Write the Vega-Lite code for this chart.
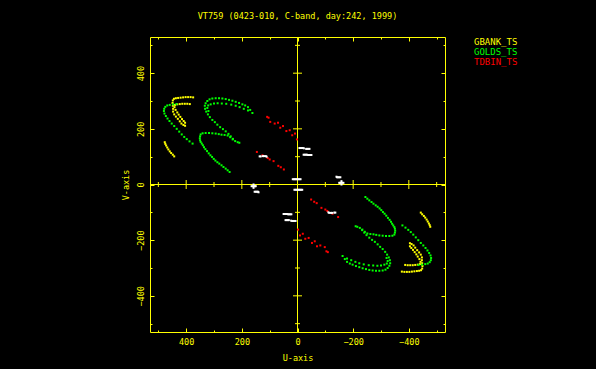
{
"$schema": "https://vega.github.io/schema/vega-lite/v6.json",
"width": 295, "height": 295,
"autosize": "none",
"padding": {"left": 150, "top": 37, "right": 151, "bottom": 37},
"background": "#000000",
"title": {"text": "VT759 (0423-010, C-band, day:242, 1999)", "color": "#ffff00", "font": "DejaVu Sans Mono", "fontSize": 8.5, "fontWeight": "normal", "anchor": "middle", "offset": 9, "baseline": "alphabetic"},
"config": {
  "view": {"stroke": "#ffff00", "strokeWidth": 1},
  "axis": {"grid": false, "domain": false, "tickColor": "#ffff00", "tickWidth": 1, "labelColor": "#ffff00", "titleColor": "#ffff00", "labelFont": "DejaVu Sans Mono", "titleFont": "DejaVu Sans Mono", "labelFontSize": 8.5, "titleFontSize": 8.5, "titleFontWeight": "normal"}
},
"datasets": {"uv": [
{"b":"GBANK_TS","u":375,"v":313},{"b":"GBANK_TS","u":384,"v":314},{"b":"GBANK_TS","u":393,"v":314},{"b":"GBANK_TS","u":402,"v":314},{"b":"GBANK_TS","u":411,"v":313},{"b":"GBANK_TS","u":420,"v":312},{"b":"GBANK_TS","u":429,"v":311},{"b":"GBANK_TS","u":437,"v":310},{"b":"GBANK_TS","u":444,"v":308},{"b":"GBANK_TS","u":448,"v":302},{"b":"GBANK_TS","u":449,"v":293},{"b":"GBANK_TS","u":448,"v":283},{"b":"GBANK_TS","u":447,"v":272},{"b":"GBANK_TS","u":447,"v":262},{"b":"GBANK_TS","u":443,"v":252},{"b":"GBANK_TS","u":437,"v":244},{"b":"GBANK_TS","u":430,"v":236},{"b":"GBANK_TS","u":423,"v":227},{"b":"GBANK_TS","u":417,"v":219},{"b":"GBANK_TS","u":410,"v":214},{"b":"GBANK_TS","u":404,"v":211},
{"b":"GBANK_TS","u":387,"v":289},{"b":"GBANK_TS","u":396,"v":290},{"b":"GBANK_TS","u":405,"v":290},{"b":"GBANK_TS","u":414,"v":290},{"b":"GBANK_TS","u":423,"v":289},{"b":"GBANK_TS","u":432,"v":288},{"b":"GBANK_TS","u":440,"v":286},{"b":"GBANK_TS","u":442,"v":278},{"b":"GBANK_TS","u":438,"v":268},{"b":"GBANK_TS","u":432,"v":259},{"b":"GBANK_TS","u":427,"v":251},{"b":"GBANK_TS","u":421,"v":243},{"b":"GBANK_TS","u":415,"v":235},{"b":"GBANK_TS","u":409,"v":228},{"b":"GBANK_TS","u":404,"v":222},
{"b":"GBANK_TS","u":477,"v":152},{"b":"GBANK_TS","u":475,"v":146},{"b":"GBANK_TS","u":472,"v":140},{"b":"GBANK_TS","u":468,"v":133},{"b":"GBANK_TS","u":464,"v":126},{"b":"GBANK_TS","u":459,"v":119},{"b":"GBANK_TS","u":454,"v":113},{"b":"GBANK_TS","u":448,"v":107},{"b":"GBANK_TS","u":443,"v":101},
{"b":"GBANK_TS","u":-375,"v":-313},{"b":"GBANK_TS","u":-384,"v":-314},{"b":"GBANK_TS","u":-393,"v":-314},{"b":"GBANK_TS","u":-402,"v":-314},{"b":"GBANK_TS","u":-411,"v":-313},{"b":"GBANK_TS","u":-420,"v":-312},{"b":"GBANK_TS","u":-429,"v":-311},{"b":"GBANK_TS","u":-437,"v":-310},{"b":"GBANK_TS","u":-444,"v":-308},{"b":"GBANK_TS","u":-448,"v":-302},{"b":"GBANK_TS","u":-449,"v":-293},{"b":"GBANK_TS","u":-448,"v":-283},{"b":"GBANK_TS","u":-447,"v":-272},{"b":"GBANK_TS","u":-447,"v":-262},{"b":"GBANK_TS","u":-443,"v":-252},{"b":"GBANK_TS","u":-437,"v":-244},{"b":"GBANK_TS","u":-430,"v":-236},{"b":"GBANK_TS","u":-423,"v":-227},{"b":"GBANK_TS","u":-417,"v":-219},{"b":"GBANK_TS","u":-410,"v":-214},{"b":"GBANK_TS","u":-404,"v":-211},
{"b":"GBANK_TS","u":-387,"v":-289},{"b":"GBANK_TS","u":-396,"v":-290},{"b":"GBANK_TS","u":-405,"v":-290},{"b":"GBANK_TS","u":-414,"v":-290},{"b":"GBANK_TS","u":-423,"v":-289},{"b":"GBANK_TS","u":-432,"v":-288},{"b":"GBANK_TS","u":-440,"v":-286},{"b":"GBANK_TS","u":-442,"v":-278},{"b":"GBANK_TS","u":-438,"v":-268},{"b":"GBANK_TS","u":-432,"v":-259},{"b":"GBANK_TS","u":-427,"v":-251},{"b":"GBANK_TS","u":-421,"v":-243},{"b":"GBANK_TS","u":-415,"v":-235},{"b":"GBANK_TS","u":-409,"v":-228},{"b":"GBANK_TS","u":-404,"v":-222},
{"b":"GBANK_TS","u":-477,"v":-152},{"b":"GBANK_TS","u":-475,"v":-146},{"b":"GBANK_TS","u":-472,"v":-140},{"b":"GBANK_TS","u":-468,"v":-133},{"b":"GBANK_TS","u":-464,"v":-126},{"b":"GBANK_TS","u":-459,"v":-119},{"b":"GBANK_TS","u":-454,"v":-113},{"b":"GBANK_TS","u":-448,"v":-107},{"b":"GBANK_TS","u":-443,"v":-101},
{"b":"GOLDS_TS","u":435,"v":289},{"b":"GOLDS_TS","u":447,"v":288},{"b":"GOLDS_TS","u":459,"v":286},{"b":"GOLDS_TS","u":468,"v":284},{"b":"GOLDS_TS","u":475,"v":279},{"b":"GOLDS_TS","u":479,"v":272},{"b":"GOLDS_TS","u":480,"v":264},{"b":"GOLDS_TS","u":478,"v":255},{"b":"GOLDS_TS","u":473,"v":246},{"b":"GOLDS_TS","u":467,"v":237},{"b":"GOLDS_TS","u":460,"v":228},{"b":"GOLDS_TS","u":452,"v":219},{"b":"GOLDS_TS","u":443,"v":210},{"b":"GOLDS_TS","u":434,"v":200},{"b":"GOLDS_TS","u":425,"v":190},{"b":"GOLDS_TS","u":416,"v":180},{"b":"GOLDS_TS","u":407,"v":171},{"b":"GOLDS_TS","u":398,"v":163},{"b":"GOLDS_TS","u":388,"v":155},{"b":"GOLDS_TS","u":377,"v":147},
{"b":"GOLDS_TS","u":162,"v":257},{"b":"GOLDS_TS","u":170,"v":268},{"b":"GOLDS_TS","u":178,"v":278},{"b":"GOLDS_TS","u":188,"v":284},{"b":"GOLDS_TS","u":198,"v":288},{"b":"GOLDS_TS","u":210,"v":293},{"b":"GOLDS_TS","u":222,"v":297},{"b":"GOLDS_TS","u":234,"v":301},{"b":"GOLDS_TS","u":246,"v":304},{"b":"GOLDS_TS","u":258,"v":307},{"b":"GOLDS_TS","u":270,"v":309},{"b":"GOLDS_TS","u":282,"v":310},{"b":"GOLDS_TS","u":294,"v":310},{"b":"GOLDS_TS","u":306,"v":309},{"b":"GOLDS_TS","u":316,"v":306},{"b":"GOLDS_TS","u":324,"v":300},{"b":"GOLDS_TS","u":330,"v":292},{"b":"GOLDS_TS","u":333,"v":283},{"b":"GOLDS_TS","u":332,"v":272},{"b":"GOLDS_TS","u":328,"v":262},{"b":"GOLDS_TS","u":322,"v":252},{"b":"GOLDS_TS","u":315,"v":242},{"b":"GOLDS_TS","u":306,"v":232},{"b":"GOLDS_TS","u":297,"v":224},{"b":"GOLDS_TS","u":288,"v":215},{"b":"GOLDS_TS","u":278,"v":206},{"b":"GOLDS_TS","u":268,"v":199},{"b":"GOLDS_TS","u":258,"v":191},{"b":"GOLDS_TS","u":248,"v":182},{"b":"GOLDS_TS","u":240,"v":173},{"b":"GOLDS_TS","u":232,"v":164},
{"b":"GOLDS_TS","u":178,"v":266},{"b":"GOLDS_TS","u":193,"v":272},{"b":"GOLDS_TS","u":208,"v":278},{"b":"GOLDS_TS","u":222,"v":283},{"b":"GOLDS_TS","u":238,"v":287},{"b":"GOLDS_TS","u":256,"v":290},{"b":"GOLDS_TS","u":272,"v":291},{"b":"GOLDS_TS","u":287,"v":292},{"b":"GOLDS_TS","u":300,"v":291},{"b":"GOLDS_TS","u":312,"v":288},{"b":"GOLDS_TS","u":321,"v":284},{"b":"GOLDS_TS","u":324,"v":275},{"b":"GOLDS_TS","u":320,"v":264},
{"b":"GOLDS_TS","u":244,"v":45},{"b":"GOLDS_TS","u":251,"v":51},{"b":"GOLDS_TS","u":258,"v":57},{"b":"GOLDS_TS","u":266,"v":63},{"b":"GOLDS_TS","u":273,"v":69},{"b":"GOLDS_TS","u":281,"v":75},{"b":"GOLDS_TS","u":288,"v":80},{"b":"GOLDS_TS","u":295,"v":86},{"b":"GOLDS_TS","u":301,"v":92},{"b":"GOLDS_TS","u":307,"v":99},{"b":"GOLDS_TS","u":313,"v":105},{"b":"GOLDS_TS","u":319,"v":112},{"b":"GOLDS_TS","u":325,"v":120},{"b":"GOLDS_TS","u":331,"v":127},{"b":"GOLDS_TS","u":336,"v":134},{"b":"GOLDS_TS","u":340,"v":141},{"b":"GOLDS_TS","u":344,"v":147},{"b":"GOLDS_TS","u":348,"v":153},{"b":"GOLDS_TS","u":350,"v":159},{"b":"GOLDS_TS","u":351,"v":166},{"b":"GOLDS_TS","u":350,"v":173},{"b":"GOLDS_TS","u":348,"v":180},{"b":"GOLDS_TS","u":341,"v":184},{"b":"GOLDS_TS","u":330,"v":185},{"b":"GOLDS_TS","u":318,"v":185},{"b":"GOLDS_TS","u":306,"v":184},{"b":"GOLDS_TS","u":294,"v":183},{"b":"GOLDS_TS","u":283,"v":181},{"b":"GOLDS_TS","u":273,"v":179},{"b":"GOLDS_TS","u":262,"v":178},{"b":"GOLDS_TS","u":251,"v":176},{"b":"GOLDS_TS","u":242,"v":170},{"b":"GOLDS_TS","u":233,"v":162},{"b":"GOLDS_TS","u":224,"v":156},{"b":"GOLDS_TS","u":215,"v":152},{"b":"GOLDS_TS","u":209,"v":150},
{"b":"GOLDS_TS","u":-435,"v":-289},{"b":"GOLDS_TS","u":-447,"v":-288},{"b":"GOLDS_TS","u":-459,"v":-286},{"b":"GOLDS_TS","u":-468,"v":-284},{"b":"GOLDS_TS","u":-475,"v":-279},{"b":"GOLDS_TS","u":-479,"v":-272},{"b":"GOLDS_TS","u":-480,"v":-264},{"b":"GOLDS_TS","u":-478,"v":-255},{"b":"GOLDS_TS","u":-473,"v":-246},{"b":"GOLDS_TS","u":-467,"v":-237},{"b":"GOLDS_TS","u":-460,"v":-228},{"b":"GOLDS_TS","u":-452,"v":-219},{"b":"GOLDS_TS","u":-443,"v":-210},{"b":"GOLDS_TS","u":-434,"v":-200},{"b":"GOLDS_TS","u":-425,"v":-190},{"b":"GOLDS_TS","u":-416,"v":-180},{"b":"GOLDS_TS","u":-407,"v":-171},{"b":"GOLDS_TS","u":-398,"v":-163},{"b":"GOLDS_TS","u":-388,"v":-155},{"b":"GOLDS_TS","u":-377,"v":-147},
{"b":"GOLDS_TS","u":-162,"v":-257},{"b":"GOLDS_TS","u":-170,"v":-268},{"b":"GOLDS_TS","u":-178,"v":-278},{"b":"GOLDS_TS","u":-188,"v":-284},{"b":"GOLDS_TS","u":-198,"v":-288},{"b":"GOLDS_TS","u":-210,"v":-293},{"b":"GOLDS_TS","u":-222,"v":-297},{"b":"GOLDS_TS","u":-234,"v":-301},{"b":"GOLDS_TS","u":-246,"v":-304},{"b":"GOLDS_TS","u":-258,"v":-307},{"b":"GOLDS_TS","u":-270,"v":-309},{"b":"GOLDS_TS","u":-282,"v":-310},{"b":"GOLDS_TS","u":-294,"v":-310},{"b":"GOLDS_TS","u":-306,"v":-309},{"b":"GOLDS_TS","u":-316,"v":-306},{"b":"GOLDS_TS","u":-324,"v":-300},{"b":"GOLDS_TS","u":-330,"v":-292},{"b":"GOLDS_TS","u":-333,"v":-283},{"b":"GOLDS_TS","u":-332,"v":-272},{"b":"GOLDS_TS","u":-328,"v":-262},{"b":"GOLDS_TS","u":-322,"v":-252},{"b":"GOLDS_TS","u":-315,"v":-242},{"b":"GOLDS_TS","u":-306,"v":-232},{"b":"GOLDS_TS","u":-297,"v":-224},{"b":"GOLDS_TS","u":-288,"v":-215},{"b":"GOLDS_TS","u":-278,"v":-206},{"b":"GOLDS_TS","u":-268,"v":-199},{"b":"GOLDS_TS","u":-258,"v":-191},{"b":"GOLDS_TS","u":-248,"v":-182},{"b":"GOLDS_TS","u":-240,"v":-173},{"b":"GOLDS_TS","u":-232,"v":-164},
{"b":"GOLDS_TS","u":-178,"v":-266},{"b":"GOLDS_TS","u":-193,"v":-272},{"b":"GOLDS_TS","u":-208,"v":-278},{"b":"GOLDS_TS","u":-222,"v":-283},{"b":"GOLDS_TS","u":-238,"v":-287},{"b":"GOLDS_TS","u":-256,"v":-290},{"b":"GOLDS_TS","u":-272,"v":-291},{"b":"GOLDS_TS","u":-287,"v":-292},{"b":"GOLDS_TS","u":-300,"v":-291},{"b":"GOLDS_TS","u":-312,"v":-288},{"b":"GOLDS_TS","u":-321,"v":-284},{"b":"GOLDS_TS","u":-324,"v":-275},{"b":"GOLDS_TS","u":-320,"v":-264},
{"b":"GOLDS_TS","u":-244,"v":-45},{"b":"GOLDS_TS","u":-251,"v":-51},{"b":"GOLDS_TS","u":-258,"v":-57},{"b":"GOLDS_TS","u":-266,"v":-63},{"b":"GOLDS_TS","u":-273,"v":-69},{"b":"GOLDS_TS","u":-281,"v":-75},{"b":"GOLDS_TS","u":-288,"v":-80},{"b":"GOLDS_TS","u":-295,"v":-86},{"b":"GOLDS_TS","u":-301,"v":-92},{"b":"GOLDS_TS","u":-307,"v":-99},{"b":"GOLDS_TS","u":-313,"v":-105},{"b":"GOLDS_TS","u":-319,"v":-112},{"b":"GOLDS_TS","u":-325,"v":-120},{"b":"GOLDS_TS","u":-331,"v":-127},{"b":"GOLDS_TS","u":-336,"v":-134},{"b":"GOLDS_TS","u":-340,"v":-141},{"b":"GOLDS_TS","u":-344,"v":-147},{"b":"GOLDS_TS","u":-348,"v":-153},{"b":"GOLDS_TS","u":-350,"v":-159},{"b":"GOLDS_TS","u":-351,"v":-166},{"b":"GOLDS_TS","u":-350,"v":-173},{"b":"GOLDS_TS","u":-348,"v":-180},{"b":"GOLDS_TS","u":-341,"v":-184},{"b":"GOLDS_TS","u":-330,"v":-185},{"b":"GOLDS_TS","u":-318,"v":-185},{"b":"GOLDS_TS","u":-306,"v":-184},{"b":"GOLDS_TS","u":-294,"v":-183},{"b":"GOLDS_TS","u":-283,"v":-181},{"b":"GOLDS_TS","u":-273,"v":-179},{"b":"GOLDS_TS","u":-262,"v":-178},{"b":"GOLDS_TS","u":-251,"v":-176},{"b":"GOLDS_TS","u":-242,"v":-170},{"b":"GOLDS_TS","u":-233,"v":-162},{"b":"GOLDS_TS","u":-224,"v":-156},{"b":"GOLDS_TS","u":-215,"v":-152},{"b":"GOLDS_TS","u":-209,"v":-150},
{"b":"TDBIN_TS","u":109,"v":243},{"b":"TDBIN_TS","u":104,"v":240},{"b":"TDBIN_TS","u":98,"v":225},{"b":"TDBIN_TS","u":82,"v":219},{"b":"TDBIN_TS","u":70,"v":222},{"b":"TDBIN_TS","u":62,"v":204},{"b":"TDBIN_TS","u":52,"v":210},{"b":"TDBIN_TS","u":40,"v":192},{"b":"TDBIN_TS","u":28,"v":195},{"b":"TDBIN_TS","u":19,"v":177},{"b":"TDBIN_TS","u":9,"v":183},{"b":"TDBIN_TS","u":2,"v":162},
{"b":"TDBIN_TS","u":146,"v":117},{"b":"TDBIN_TS","u":126,"v":105},{"b":"TDBIN_TS","u":107,"v":95},{"b":"TDBIN_TS","u":100,"v":90},{"b":"TDBIN_TS","u":86,"v":84},{"b":"TDBIN_TS","u":69,"v":67},{"b":"TDBIN_TS","u":60,"v":62},{"b":"TDBIN_TS","u":49,"v":54},
{"b":"TDBIN_TS","u":-109,"v":-243},{"b":"TDBIN_TS","u":-104,"v":-240},{"b":"TDBIN_TS","u":-98,"v":-225},{"b":"TDBIN_TS","u":-82,"v":-219},{"b":"TDBIN_TS","u":-70,"v":-222},{"b":"TDBIN_TS","u":-62,"v":-204},{"b":"TDBIN_TS","u":-52,"v":-210},{"b":"TDBIN_TS","u":-40,"v":-192},{"b":"TDBIN_TS","u":-28,"v":-195},{"b":"TDBIN_TS","u":-19,"v":-177},{"b":"TDBIN_TS","u":-9,"v":-183},{"b":"TDBIN_TS","u":-2,"v":-162},
{"b":"TDBIN_TS","u":-146,"v":-117},{"b":"TDBIN_TS","u":-126,"v":-105},{"b":"TDBIN_TS","u":-107,"v":-95},{"b":"TDBIN_TS","u":-100,"v":-90},{"b":"TDBIN_TS","u":-86,"v":-84},{"b":"TDBIN_TS","u":-69,"v":-67},{"b":"TDBIN_TS","u":-60,"v":-62},{"b":"TDBIN_TS","u":-49,"v":-54},
{"b":"other","u":-7,"v":131},{"b":"other","u":-11,"v":131},{"b":"other","u":-15,"v":131},{"b":"other","u":-19,"v":131},{"b":"other","u":-23,"v":130},{"b":"other","u":-31,"v":128},{"b":"other","u":-35,"v":128},{"b":"other","u":-39,"v":128},{"b":"other","u":-43,"v":128},
{"b":"other","u":-22,"v":107},{"b":"other","u":-26,"v":107},{"b":"other","u":-30,"v":107},{"b":"other","u":-34,"v":107},{"b":"other","u":-38,"v":106},{"b":"other","u":-42,"v":106},{"b":"other","u":-46,"v":106},{"b":"other","u":-50,"v":106},
{"b":"other","u":17,"v":19},{"b":"other","u":13,"v":19},{"b":"other","u":9,"v":19},{"b":"other","u":5,"v":19},{"b":"other","u":1,"v":19},{"b":"other","u":-3,"v":19},{"b":"other","u":-7,"v":19},{"b":"other","u":-11,"v":19},
{"b":"other","u":165,"v":-6},{"b":"other","u":161,"v":-6},{"b":"other","u":157,"v":-6},{"b":"other","u":153,"v":-6},{"b":"other","u":150,"v":-6},{"b":"other","u":158,"v":0},{"b":"other","u":158,"v":-12},
{"b":"other","u":154,"v":-26},{"b":"other","u":150,"v":-26},{"b":"other","u":146,"v":-26},{"b":"other","u":142,"v":-26},{"b":"other","u":140,"v":-28},
{"b":"other","u":136,"v":101},{"b":"other","u":132,"v":101},{"b":"other","u":124,"v":102},{"b":"other","u":120,"v":102},{"b":"other","u":114,"v":102},{"b":"other","u":111,"v":100},
{"b":"other","u":7,"v":-131},{"b":"other","u":11,"v":-131},{"b":"other","u":15,"v":-131},{"b":"other","u":19,"v":-131},{"b":"other","u":23,"v":-130},{"b":"other","u":31,"v":-128},{"b":"other","u":35,"v":-128},{"b":"other","u":39,"v":-128},{"b":"other","u":43,"v":-128},
{"b":"other","u":22,"v":-107},{"b":"other","u":26,"v":-107},{"b":"other","u":30,"v":-107},{"b":"other","u":34,"v":-107},{"b":"other","u":38,"v":-106},{"b":"other","u":42,"v":-106},{"b":"other","u":46,"v":-106},{"b":"other","u":50,"v":-106},
{"b":"other","u":-17,"v":-19},{"b":"other","u":-13,"v":-19},{"b":"other","u":-9,"v":-19},{"b":"other","u":-5,"v":-19},{"b":"other","u":-1,"v":-19},{"b":"other","u":3,"v":-19},{"b":"other","u":7,"v":-19},{"b":"other","u":11,"v":-19},
{"b":"other","u":-165,"v":6},{"b":"other","u":-161,"v":6},{"b":"other","u":-157,"v":6},{"b":"other","u":-153,"v":6},{"b":"other","u":-150,"v":6},{"b":"other","u":-158,"v":0},{"b":"other","u":-158,"v":12},
{"b":"other","u":-154,"v":26},{"b":"other","u":-150,"v":26},{"b":"other","u":-146,"v":26},{"b":"other","u":-142,"v":26},{"b":"other","u":-140,"v":28},
{"b":"other","u":-136,"v":-101},{"b":"other","u":-132,"v":-101},{"b":"other","u":-124,"v":-102},{"b":"other","u":-120,"v":-102},{"b":"other","u":-114,"v":-102},{"b":"other","u":-111,"v":-100}
]},
"resolve": {"axis": {"x": "independent", "y": "independent"}},
"layer": [
 {"data": {"values": [{}]}, "mark": {"type": "rule", "color": "#ffff00", "strokeWidth": 1},
  "encoding": {"y": {"datum": 0, "type": "quantitative", "axis": null}}},
 {"data": {"values": [{}]}, "mark": {"type": "rule", "color": "#ffff00", "strokeWidth": 1},
  "encoding": {"x": {"datum": 0, "type": "quantitative", "axis": null}}},
 {"data": {"values": [{"t": -400}, {"t": -200}, {"t": 200}, {"t": 400}]},
  "mark": {"type": "tick", "orient": "vertical", "color": "#ffff00", "size": 9, "thickness": 1, "opacity": 1},
  "encoding": {"x": {"field": "t", "type": "quantitative", "axis": {"orient": "top", "values": [-400, -200, 0, 200, 400], "labels": false, "tickSize": -4, "title": null}},
               "y": {"datum": 0, "type": "quantitative", "axis": null}}},
 {"data": {"values": [{"t": -500}, {"t": -300}, {"t": -100}, {"t": 100}, {"t": 300}, {"t": 500}]},
  "mark": {"type": "tick", "orient": "vertical", "color": "#ffff00", "size": 5, "thickness": 1, "opacity": 1},
  "encoding": {"x": {"field": "t", "type": "quantitative", "axis": {"orient": "top", "values": [-500, -300, -100, 100, 300, 500], "labels": false, "tickSize": -2, "title": null}},
               "y": {"datum": 0, "type": "quantitative", "axis": null}}},
 {"data": {"values": [{"t": -400}, {"t": -200}, {"t": 200}, {"t": 400}]},
  "mark": {"type": "tick", "orient": "horizontal", "color": "#ffff00", "size": 9, "thickness": 1, "opacity": 1},
  "encoding": {"y": {"field": "t", "type": "quantitative", "axis": {"orient": "right", "values": [-400, -200, 0, 200, 400], "labels": false, "tickSize": -4, "title": null}},
               "x": {"datum": 0, "type": "quantitative", "axis": null}}},
 {"data": {"values": [{"t": -500}, {"t": -300}, {"t": -100}, {"t": 100}, {"t": 300}, {"t": 500}]},
  "mark": {"type": "tick", "orient": "horizontal", "color": "#ffff00", "size": 5, "thickness": 1, "opacity": 1},
  "encoding": {"y": {"field": "t", "type": "quantitative", "axis": {"orient": "right", "values": [-500, -300, -100, 100, 300, 500], "labels": false, "tickSize": -2, "title": null}},
               "x": {"datum": 0, "type": "quantitative", "axis": null}}},
 {"data": {"values": []}, "mark": "point",
  "encoding": {"x": {"field": "u", "type": "quantitative", "axis": {"orient": "bottom", "values": [-400, -200, 0, 200, 400], "labels": false, "tickSize": -4, "title": null}},
               "y": {"field": "v", "type": "quantitative", "axis": {"orient": "left", "values": [-400, -200, 0, 200, 400], "labels": false, "tickSize": -4, "title": null}}}},
 {"data": {"values": []}, "mark": "point",
  "encoding": {"x": {"field": "u", "type": "quantitative", "axis": {"orient": "bottom", "values": [-500, -300, -100, 100, 300, 500], "labels": false, "tickSize": -2, "title": null}},
               "y": {"field": "v", "type": "quantitative", "axis": {"orient": "left", "values": [-500, -300, -100, 100, 300, 500], "labels": false, "tickSize": -2, "title": null}}}},
 {"data": {"name": "uv"},
  "mark": {"type": "square", "size": 4, "opacity": 1, "filled": true},
  "encoding": {
   "x": {"field": "u", "type": "quantitative", "scale": {"domain": [-530, 530], "reverse": true, "nice": false, "zero": false},
         "axis": {"orient": "bottom", "values": [-400, -200, 0, 200, 400], "ticks": false, "labelPadding": 5, "title": "U-axis", "titlePadding": 8}},
   "y": {"field": "v", "type": "quantitative", "scale": {"domain": [-530, 530], "nice": false, "zero": false},
         "axis": {"orient": "left", "values": [-400, -200, 0, 200, 400], "ticks": false, "labelAngle": -90, "labelAlign": "center", "labelBaseline": "bottom", "labelPadding": 5, "title": "V-axis", "titlePadding": 6}},
   "color": {"field": "b", "type": "nominal",
     "scale": {"domain": ["GBANK_TS", "GOLDS_TS", "TDBIN_TS", "other"], "range": ["#ffff00", "#00ff00", "#ff0000", "#ffffff"]},
     "legend": {"title": null, "orient": "right", "offset": 19, "values": ["GBANK_TS", "GOLDS_TS", "TDBIN_TS"], "symbolSize": 0, "symbolStrokeWidth": 0, "symbolOpacity": 0, "labelOffset": 0, "labelFont": "DejaVu Sans Mono", "labelFontSize": 9, "rowPadding": 0, "padding": 0,
       "encode": {"labels": {"update": {"fill": {"scale": "color", "field": "value"}}}}}}
  }}
]
}
